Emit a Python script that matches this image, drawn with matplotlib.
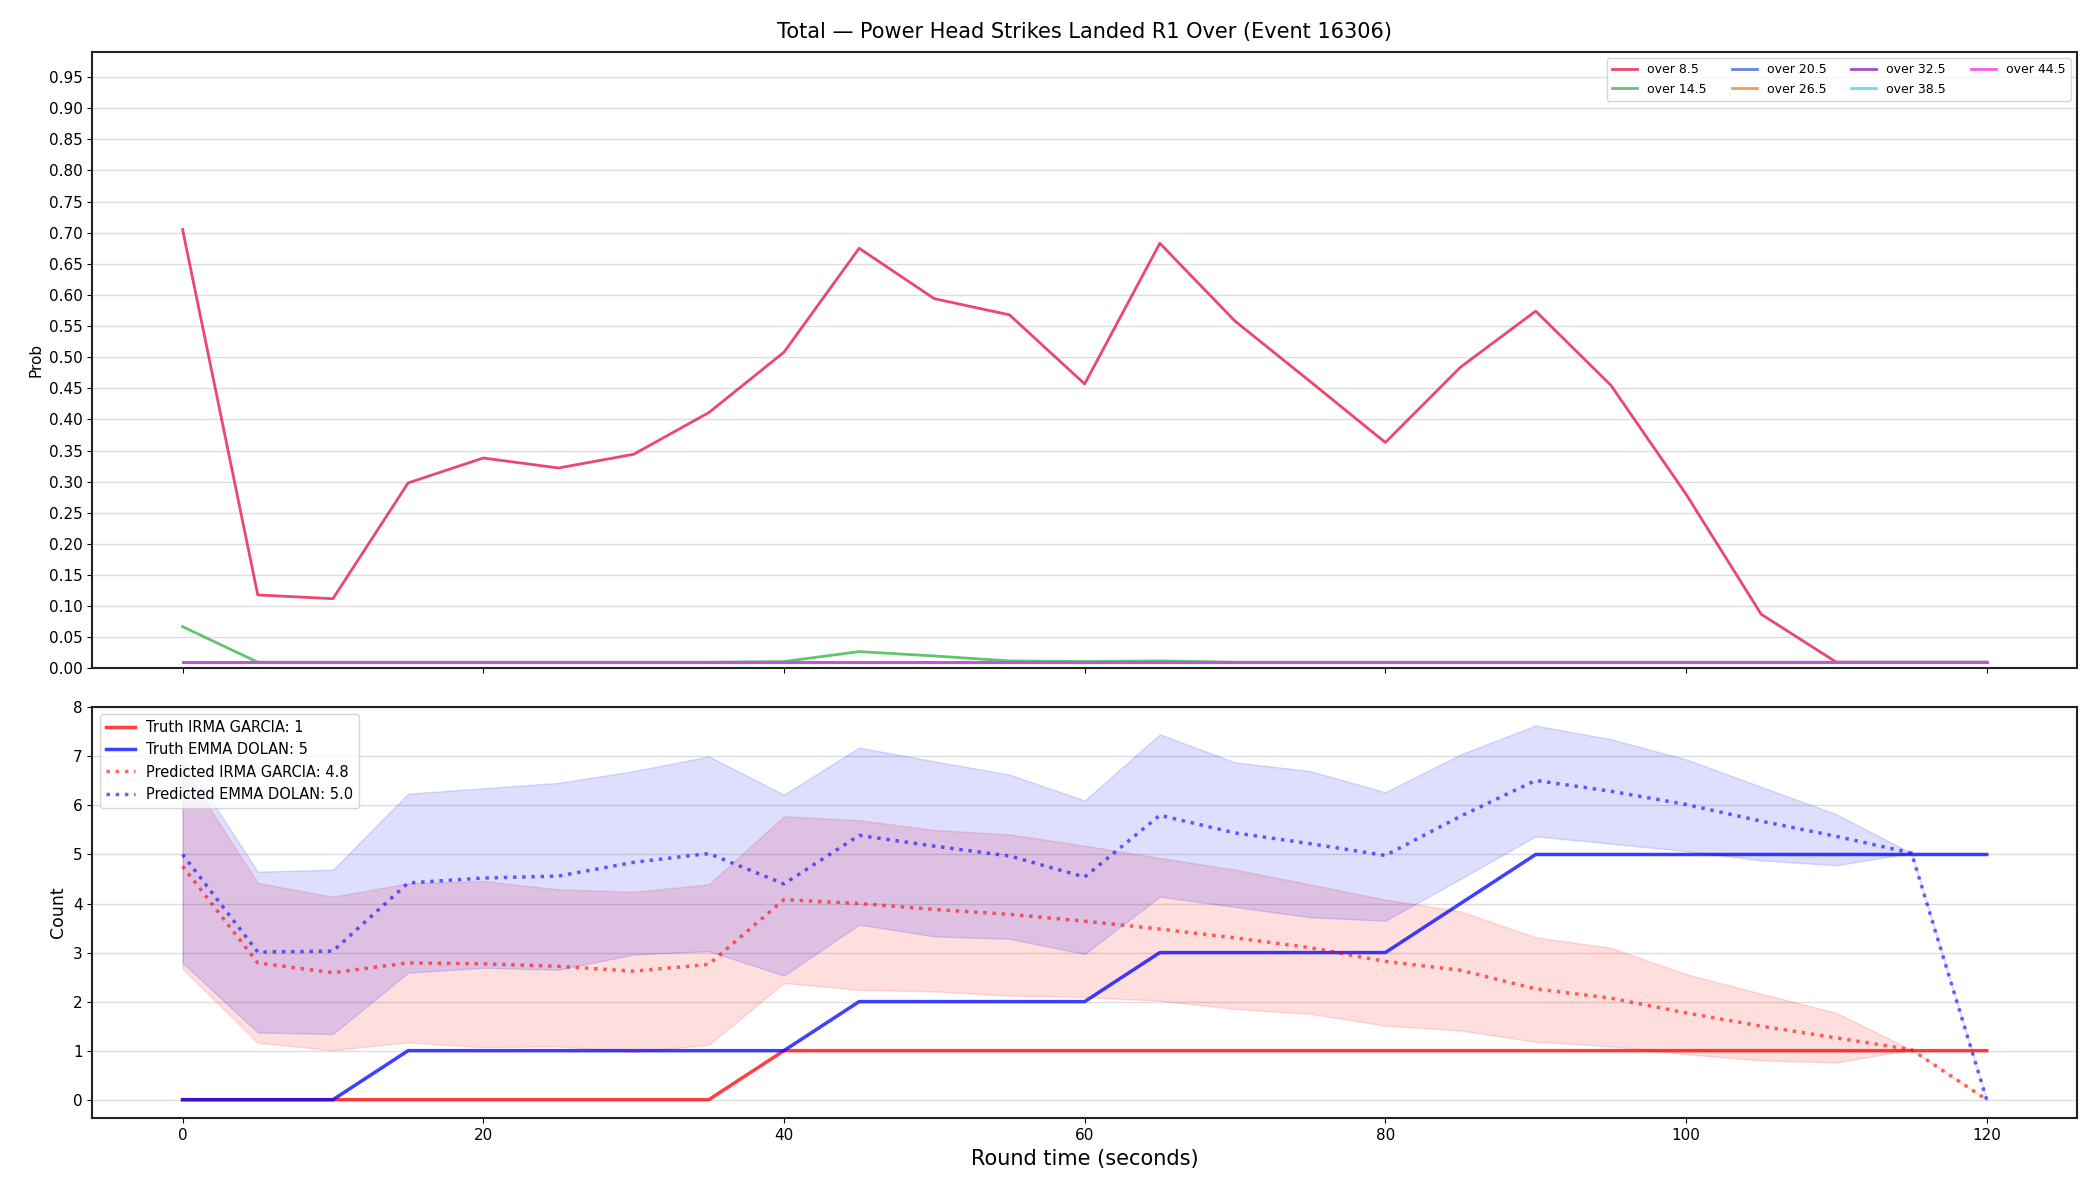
import matplotlib
matplotlib.use("Agg")
import matplotlib.pyplot as plt
import numpy as np

t = list(range(0, 125, 5))

# Top panel: probabilities for each "over" line
over_labels = ["over 8.5", "over 14.5", "over 20.5", "over 26.5", "over 32.5", "over 38.5", "over 44.5"]
over_colors = ["#e6194b", "#3cb44b", "#4363d8", "#f58231", "#911eb4", "#42d4f4", "#f032e6"]
p_8_5 = [0.705, 0.118, 0.112, 0.298, 0.338, 0.322, 0.344, 0.411, 0.508, 0.675, 0.594, 0.568, 0.457,
         0.683, 0.558, 0.461, 0.363, 0.484, 0.574, 0.455, 0.280, 0.087, 0.010, 0.010, 0.010]
p_14_5 = [0.067, 0.010, 0.010, 0.010, 0.010, 0.010, 0.010, 0.010, 0.011, 0.027, 0.020, 0.012, 0.011,
          0.012, 0.010, 0.010, 0.010, 0.010, 0.010, 0.010, 0.010, 0.010, 0.010, 0.010, 0.010]
p_20_5 = [0.010] * 25
p_26_5 = [0.010] * 25
p_32_5 = [0.010] * 25
p_38_5 = [0.010] * 25
p_44_5 = [0.010] * 25
over_series = [p_8_5, p_14_5, p_20_5, p_26_5, p_32_5, p_38_5, p_44_5]

# Bottom panel
truth_irma = [0, 0, 0, 0, 0, 0, 0, 0, 1, 1, 1, 1, 1, 1, 1, 1, 1, 1, 1, 1, 1, 1, 1, 1, 1]
truth_emma = [0, 0, 0, 1, 1, 1, 1, 1, 1, 2, 2, 2, 2, 3, 3, 3, 3, 4, 5, 5, 5, 5, 5, 5, 5]
pred_irma = [4.76, 2.79, 2.59, 2.79, 2.77, 2.72, 2.62, 2.76, 4.08, 4.00, 3.88, 3.78, 3.64,
             3.48, 3.30, 3.10, 2.82, 2.64, 2.26, 2.07, 1.77, 1.50, 1.26, 1.02, 0.0]
pred_emma = [5.00, 3.01, 3.03, 4.42, 4.52, 4.56, 4.84, 5.02, 4.40, 5.39, 5.17, 4.97, 4.54,
             5.80, 5.44, 5.22, 4.98, 5.78, 6.51, 6.29, 6.02, 5.68, 5.37, 5.03, 0.0]
irma_hi = [6.80, 4.42, 4.14, 4.41, 4.46, 4.29, 4.24, 4.39, 5.78, 5.70, 5.50, 5.41, 5.18,
           4.93, 4.69, 4.39, 4.08, 3.84, 3.31, 3.10, 2.56, 2.16, 1.77, 1.02, 0.0]
irma_lo = [2.67, 1.16, 1.01, 1.17, 1.07, 1.09, 0.97, 1.12, 2.38, 2.24, 2.21, 2.12, 2.09,
           2.02, 1.85, 1.75, 1.51, 1.41, 1.18, 1.09, 0.93, 0.80, 0.76, 1.02, 0.0]
emma_hi = [7.00, 4.65, 4.69, 6.24, 6.35, 6.46, 6.70, 7.00, 6.22, 7.18, 6.90, 6.63, 6.10,
           7.45, 6.88, 6.70, 6.27, 7.04, 7.63, 7.35, 6.94, 6.38, 5.82, 5.03, 0.0]
emma_lo = [2.79, 1.37, 1.34, 2.59, 2.69, 2.65, 2.96, 3.03, 2.53, 3.57, 3.33, 3.28, 2.97,
           4.14, 3.93, 3.72, 3.65, 4.50, 5.37, 5.22, 5.07, 4.88, 4.78, 5.03, 0.0]

fig = plt.figure(figsize=(21, 12), dpi=100)
ax1 = fig.add_axes([0.044, 0.443, 0.945, 0.5135])
ax2 = fig.add_axes([0.044, 0.068, 0.945, 0.343], sharex=ax1)

for lab, col, ser in zip(over_labels, over_colors, over_series):
    ax1.plot(t, ser, color=col, lw=2, alpha=0.8, label=lab)
ax1.set_ylim(0, 0.99)
ax1.set_yticks(np.arange(0, 0.951, 0.05))
ax1.set_yticklabels([f"{v:.2f}" for v in np.arange(0, 0.951, 0.05)])
ax1.set_ylabel("Prob", fontsize=11)
ax1.grid(axis="y", color="#dddddd", lw=1)
ax1.set_axisbelow(True)
ax1.tick_params(labelbottom=False, labelsize=11)
ax1.legend(loc="upper right", ncol=4, fontsize=9, framealpha=0.8)
ax1.set_title("Total \u2014 Power Head Strikes Landed R1 Over (Event 16306)", fontsize=15, pad=10)

ax2.fill_between(t, irma_lo, irma_hi, color="red", alpha=0.13)
ax2.fill_between(t, emma_lo, emma_hi, color="blue", alpha=0.13)
ax2.plot(t, truth_irma, color="red", lw=2.5, alpha=0.75, label="Truth IRMA GARCIA: 1")
ax2.plot(t, truth_emma, color="blue", lw=2.5, alpha=0.75, label="Truth EMMA DOLAN: 5")
ax2.plot(t, pred_irma, color="red", lw=2.5, ls=":", alpha=0.6, label="Predicted IRMA GARCIA: 4.8")
ax2.plot(t, pred_emma, color="blue", lw=2.5, ls=":", alpha=0.6, label="Predicted EMMA DOLAN: 5.0")
ax2.set_yticks(range(0, 9))
ax2.set_ylabel("Count", fontsize=12.5)
ax2.set_xlabel("Round time (seconds)", fontsize=15)
ax2.grid(axis="y", color="#dddddd", lw=1)
ax2.set_axisbelow(True)
ax2.tick_params(labelsize=11)
ax2.legend(loc="upper left", fontsize=10.5, framealpha=0.8)
ax2.set_xticks([0, 20, 40, 60, 80, 100, 120])

for ax in (ax1, ax2):
    for s in ax.spines.values():
        s.set_linewidth(1.5)
        s.set_color("#222222")

fig.savefig("out.png", dpi=100)
